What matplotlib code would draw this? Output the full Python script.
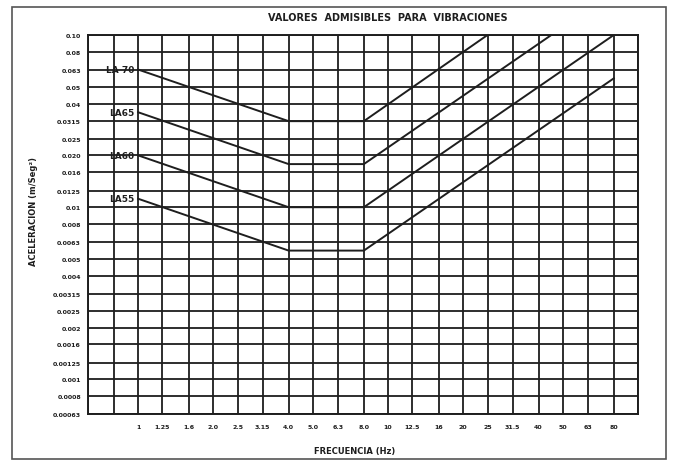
import numpy as np
import matplotlib
matplotlib.use("Agg")
import matplotlib.pyplot as plt
from matplotlib.patches import Rectangle
from matplotlib.ticker import NullLocator

# third-octave grid (Hz) and labels
freq_grid = [0.63, 0.8, 1, 1.25, 1.6, 2, 2.5, 3.15, 4, 5, 6.3, 8, 10, 12.5,
             16, 20, 25, 31.5, 40, 50, 63, 80, 100]
freq_labels = ["", "", "1", "1.25", "1.6", "2.0", "2.5", "3.15", "4.0", "5.0",
               "6.3", "8.0", "10", "12.5", "16", "20", "25", "31.5", "40",
               "50", "63", "80", ""]

acc_grid = [0.1, 0.08, 0.063, 0.05, 0.04, 0.0315, 0.025, 0.02, 0.016, 0.0125,
            0.01, 0.008, 0.0063, 0.005, 0.004, 0.00315, 0.0025, 0.002, 0.0016,
            0.00125, 0.001, 0.0008, 0.00063]
acc_labels = ["0.10", "0.08", "0.063", "0.05", "0.04", "0.0315", "0.025",
              "0.020", "0.016", "0.0125", "0.01", "0.008", "0.0063", "0.005",
              "0.004", "0.00315", "0.0025", "0.002", "0.0016", "0.00125",
              "0.001", "0.0008", "0.00063"]

# curves
curve_names = ["LA 70", "LA65", "LA60", "LA55"]
la70_f = [1, 4, 8, 25]
la70_a = [0.063, 0.0316, 0.0316, 0.1]
la65_f = [1, 4, 8, 45]
la65_a = [0.0356, 0.0178, 0.0178, 0.1]
la60_f = [1, 4, 8, 80]
la60_a = [0.02, 0.01, 0.01, 0.1]
la55_f = [1, 4, 8, 80]
la55_a = [0.0112, 0.0056, 0.0056, 0.056]
curves = [(la70_f, la70_a), (la65_f, la65_a), (la60_f, la60_a), (la55_f, la55_a)]

ink = "#1e1e1e"

fig = plt.figure(figsize=(6.74, 4.64), dpi=100)
fig.patch.set_facecolor("white")
ax = fig.add_axes([88 / 674, 1 - 415 / 464, 550 / 674, 379 / 464])

ax.set_xscale("log")
ax.set_yscale("log")
ax.set_xlim(freq_grid[0], freq_grid[-1])
ax.set_ylim(acc_grid[-1], acc_grid[0])

for f in freq_grid:
    ax.axvline(f, color=ink, lw=1.3, zorder=1)
for a in acc_grid:
    ax.axhline(a, color=ink, lw=1.3, zorder=1)

for name, (f, a) in zip(curve_names, curves):
    ax.plot(f, a, color=ink, lw=1.4, zorder=3)
    ax.annotate(name, xy=(f[0], a[0]), xytext=(-3, 0), textcoords="offset points",
                ha="right", va="center", fontsize=6.5, fontweight="bold",
                color=ink, zorder=4)

ax.xaxis.set_minor_locator(NullLocator())
ax.yaxis.set_minor_locator(NullLocator())
ax.set_xticks(freq_grid)
ax.set_xticklabels(freq_labels, fontsize=4.5, fontweight="bold", color=ink)
ax.set_yticks(acc_grid)
ax.set_yticklabels(acc_labels, fontsize=4.5, fontweight="bold", color=ink)
ax.tick_params(axis="y", length=0, pad=5)
ax.tick_params(axis="x", length=0, pad=7)
for s in ax.spines.values():
    s.set_color(ink)
    s.set_linewidth(1.4)

fig.text(388 / 674, 1 - 18 / 464, "VALORES  ADMISIBLES  PARA  VIBRACIONES",
         ha="center", va="center", fontsize=7, fontweight="bold", color=ink)
fig.text(355 / 674, 1 - 452 / 464, "FRECUENCIA (Hz)", ha="center", va="center",
         fontsize=6, fontweight="bold", color=ink)
fig.text(33 / 674, 1 - 212 / 464, "ACELERACION (m/Seg²)", ha="center",
         va="center", rotation=90, fontsize=6, fontweight="bold", color=ink)

# outer frame of the sheet
fig.patches.append(Rectangle((12 / 674, 1 - 460 / 464), 654 / 674, 452 / 464,
                             transform=fig.transFigure, fill=False,
                             edgecolor="#555555", lw=1.2))

fig.savefig("out.png", dpi=100, facecolor="white")
